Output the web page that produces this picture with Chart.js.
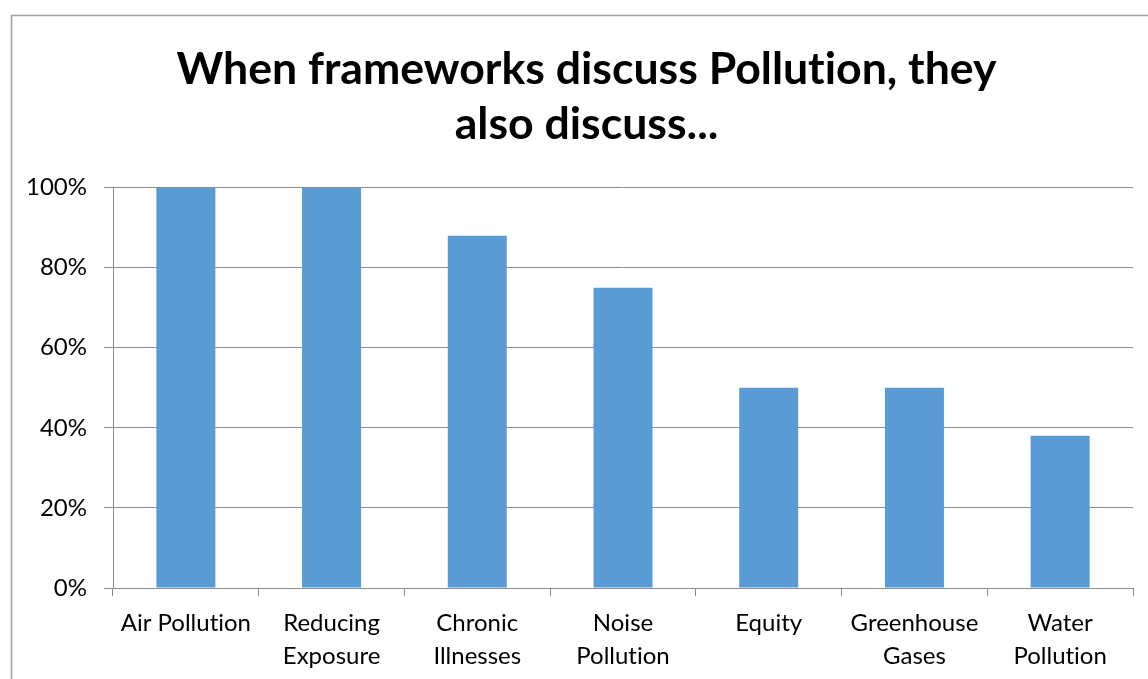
<!DOCTYPE html>
<html><head><meta charset="utf-8">
<script src="https://cdn.jsdelivr.net/npm/chart.js@4/dist/chart.umd.min.js"></script>
<style>html,body{margin:0;padding:0;background:#fff}#wrap{width:1148px;height:679px;position:relative}</style>
</head><body><div id="wrap"><canvas id="c" width="1148" height="679"></canvas></div>
<script>
const categories = [["Air Pollution"], ["Reducing", "Exposure"], ["Chronic", "Illnesses"], ["Noise", "Pollution"], ["Equity"], ["Greenhouse", "Gases"], ["Water", "Pollution"]];
const shareValues = [100, 100, 88, 75, 50, 50, 38];
const titleLines = ["When frameworks discuss Pollution, they", "also discuss..."];
const FONT = "Lato, 'Liberation Sans', sans-serif";
const GRID = '#8c8c8c';

const framePlugin = {
  id: 'frame',
  afterLayout(chart) {
    if (chart.titleBlock) chart.titleBlock.left = 40;
  },
  beforeDraw(chart) {
    const ctx = chart.ctx;
    try { ctx.textRendering = 'optimizeSpeed'; } catch (e) {}
    ctx.save();
    ctx.fillStyle = '#fff';
    ctx.fillRect(0, 0, chart.width, chart.height);
    ctx.strokeStyle = '#a0a0a0';
    ctx.lineWidth = 1.5;
    ctx.strokeRect(11.5, 15.5, 3000, 3000);
    ctx.restore();
  }
};

new Chart(document.getElementById('c'), {
  type: 'bar',
  data: {
    labels: categories,
    datasets: [{ data: shareValues, backgroundColor: '#5B9BD5', barPercentage: 0.81, categoryPercentage: 0.5 }]
  },
  options: {
    responsive: false,
    animation: false,
    layout: { padding: { left: 20, right: 15, top: 0, bottom: 0 } },
    plugins: {
      legend: { display: false },
      tooltip: { enabled: false },
      title: {
        display: true,
        text: titleLines,
        color: '#000',
        font: { family: FONT, size: 44.6, weight: 'bold', lineHeight: 1.24 },
        padding: { top: 42, bottom: 35 }
      }
    },
    scales: {
      x: {
        grid: { display: true, drawOnChartArea: false, drawTicks: true, tickLength: 8, color: GRID, offset: true },
        border: { display: true, color: GRID, width: 1 },
        ticks: { color: '#000', font: { family: FONT, size: 24, lineHeight: 1.375 }, padding: 11, maxRotation: 0, autoSkip: false },
        afterFit(s) { s.height = 91; }
      },
      y: {
        min: 0, max: 100,
        grid: { color: GRID, lineWidth: 1, tickLength: 9, drawTicks: true },
        border: { display: true, color: GRID, width: 1 },
        ticks: { stepSize: 20, color: '#000', font: { family: FONT, size: 24 }, padding: 17, callback: v => v + '%' },
        afterFit(s) { s.width = 93; }
      }
    }
  },
  plugins: [framePlugin]
});
</script></body></html>
